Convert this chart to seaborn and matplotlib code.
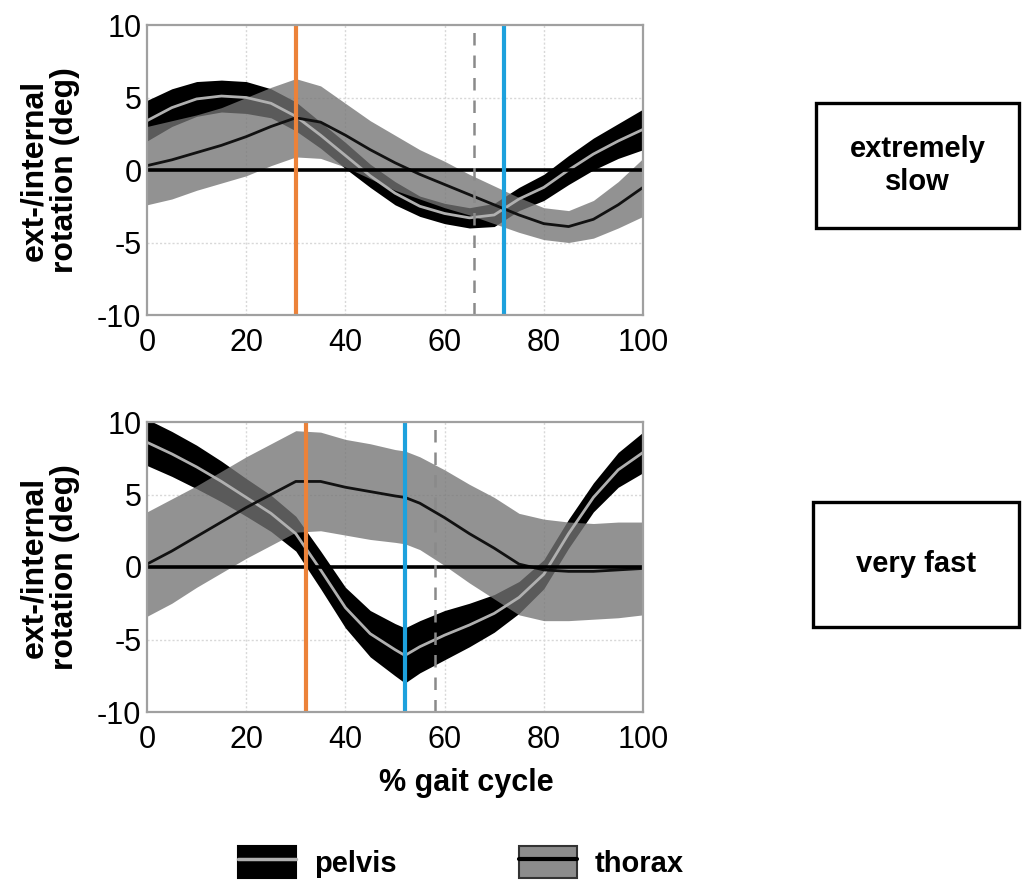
import numpy as np
import pandas as pd
import matplotlib
matplotlib.use("Agg")
import matplotlib.pyplot as plt
import seaborn as sns
from matplotlib.patches import Patch, Rectangle
from matplotlib.lines import Line2D
from matplotlib.legend_handler import HandlerTuple

# ---------------- data ----------------
# panel 1: extremely slow
x_slow = [0, 5, 10, 15, 20, 25, 30, 35, 40, 45, 50, 55, 60, 65, 70, 75, 80, 85, 90, 95, 100]
pelvis_slow_mean = [3.4, 4.3, 4.9, 5.1, 5.0, 4.6, 3.7, 2.4, 1.0, -0.4, -1.6, -2.5, -3.0, -3.3, -3.1, -2.0, -1.2, 0.0, 1.1, 2.0, 2.8]
pelvis_slow_sd = [1.4, 1.3, 1.2, 1.1, 1.1, 1.0, 1.0, 0.9, 0.9, 0.8, 0.8, 0.7, 0.7, 0.7, 0.8, 0.8, 0.9, 1.0, 1.1, 1.2, 1.4]
thorax_slow_mean = [0.3, 0.7, 1.2, 1.7, 2.3, 3.0, 3.6, 3.3, 2.4, 1.4, 0.5, -0.3, -1.0, -1.7, -2.4, -3.1, -3.7, -3.9, -3.4, -2.4, -1.2]
thorax_slow_sd = [2.7, 2.7, 2.6, 2.6, 2.7, 2.7, 2.7, 2.5, 2.2, 2.0, 1.9, 1.7, 1.6, 1.4, 1.3, 1.2, 1.1, 1.1, 1.3, 1.6, 2.0]
events_slow = {"toe_off_contra": 30, "toe_off": 72, "dashed": 66}

# panel 2: very fast
x_fast = [0, 5, 10, 15, 20, 25, 30, 35, 40, 45, 50, 52, 55, 60, 65, 70, 75, 80, 85, 90, 95, 100]
pelvis_fast_mean = [8.6, 7.8, 6.9, 5.9, 4.8, 3.7, 2.3, -0.2, -2.8, -4.6, -5.7, -6.1, -5.5, -4.7, -4.0, -3.2, -2.1, -0.5, 2.3, 4.8, 6.7, 7.9]
pelvis_fast_sd = [1.6, 1.55, 1.5, 1.4, 1.3, 1.25, 1.2, 1.3, 1.4, 1.6, 1.8, 1.9, 1.8, 1.7, 1.5, 1.3, 1.1, 1.0, 1.0, 1.0, 1.2, 1.4]
thorax_fast_mean = [0.2, 1.1, 2.1, 3.1, 4.1, 5.0, 5.9, 5.9, 5.5, 5.2, 4.9, 4.8, 4.4, 3.4, 2.3, 1.3, 0.2, -0.2, -0.3, -0.3, -0.2, -0.1]
thorax_fast_sd = [3.6, 3.6, 3.5, 3.5, 3.5, 3.5, 3.5, 3.4, 3.3, 3.3, 3.2, 3.2, 3.2, 3.3, 3.4, 3.5, 3.5, 3.5, 3.4, 3.3, 3.3, 3.2]
events_fast = {"toe_off_contra": 32, "toe_off": 52, "dashed": 58}

panel_labels = ["extremely\nslow", "very fast"]
x_ticks = [0, 20, 40, 60, 80, 100]
y_ticks = [-10, -5, 0, 5, 10]
y_label = "ext-/internal\nrotation (deg)"
x_label = "% gait cycle"
legend_labels = ["pelvis", "thorax"]

# ---------------- style ----------------
sns.set_theme(style="white")
FAM = ["Liberation Sans", "DejaVu Sans"]
plt.rcParams["font.family"] = FAM
plt.rcParams["text.color"] = "black"
plt.rcParams["axes.labelcolor"] = "black"

W, H = 1022, 884
fig = plt.figure(figsize=(W / 100, H / 100), dpi=100)

def px_axes(l, t, r, b):
    return fig.add_axes([l / W, 1 - b / H, (r - l) / W, (b - t) / H])

ax_top = px_axes(147, 25, 643, 315)
ax_bot = px_axes(147, 422, 643, 712)

PELVIS_C = "black"
PELVIS_LINE = "#b0b0b0"
THORAX_C = "#747474"
THORAX_ALPHA = 0.78
THORAX_LINE = "#111111"
ORANGE = "#EC8239"
BLUE = "#1DA1DD"

def draw_panel(ax, x, pm, ps, tm, ts, ev):
    x = np.asarray(x, float)
    pm, ps, tm, ts = map(lambda a: np.asarray(a, float), (pm, ps, tm, ts))
    ax.set_xlim(0, 100)
    ax.set_ylim(-10, 10)
    for g in [20, 40, 60, 80]:
        ax.axvline(g, color="#d8d8d8", lw=1.0, ls=(0, (1.5, 1.5)), zorder=1)
    for g in [-5, 5]:
        ax.axhline(g, color="#d8d8d8", lw=1.0, ls=(0, (1.5, 1.5)), zorder=1)
    ax.fill_between(x, pm - ps, pm + ps, color=PELVIS_C, lw=0, zorder=2)
    ax.fill_between(x, tm - ts, tm + ts, color=THORAX_C, alpha=THORAX_ALPHA, lw=0, zorder=3)
    df = pd.DataFrame({"x": x, "pelvis": pm, "thorax": tm})
    sns.lineplot(data=df, x="x", y="pelvis", ax=ax, color=PELVIS_LINE, lw=2.0, zorder=4)
    sns.lineplot(data=df, x="x", y="thorax", ax=ax, color=THORAX_LINE, lw=2.0, zorder=4)
    ax.axhline(0, color="black", lw=2.6, zorder=5)
    ax.axvline(ev["dashed"], color="#8a8a8a", lw=1.8, ls=(0, (5, 4)), zorder=6)
    ax.axvline(ev["toe_off_contra"], color=ORANGE, lw=3.0, zorder=7)
    ax.axvline(ev["toe_off"], color=BLUE, lw=3.0, zorder=7)
    ax.set_xticks(x_ticks)
    ax.set_yticks(y_ticks)
    ax.set_xticklabels([str(t) for t in x_ticks])
    ax.set_yticklabels([str(t) for t in y_ticks])
    ax.tick_params(axis="both", labelsize=22, colors="#999999", labelcolor="black",
                   direction="in", length=4, width=1)
    ax.tick_params(axis="x", pad=9)
    ax.tick_params(axis="y", pad=4)
    for s in ax.spines.values():
        s.set_color("#a0a0a0")
        s.set_linewidth(1.6)
        s.set_zorder(8)
    ax.set_xlabel("")
    ax.set_ylabel(y_label, fontsize=23, fontweight="bold", labelpad=12,
                  linespacing=1.05, color="black")

draw_panel(ax_top, x_slow, pelvis_slow_mean, pelvis_slow_sd, thorax_slow_mean, thorax_slow_sd, events_slow)
draw_panel(ax_bot, x_fast, pelvis_fast_mean, pelvis_fast_sd, thorax_fast_mean, thorax_fast_sd, events_fast)

ax_bot.set_xlabel(x_label, fontsize=22, fontweight="bold", color="black")
ax_bot.xaxis.set_label_coords((466 - 147) / 496, -(768 - 712) / 290)

# right-side boxes with condition names
for (l, t, r, b), lab in zip([(816, 103, 1019, 228), (813, 502, 1019, 627)], panel_labels):
    fig.add_artist(Rectangle((l / W, 1 - b / H), (r - l) / W, (b - t) / H,
                             transform=fig.transFigure, fill=False, ec="black", lw=2.4))
    fig.text((l + r) / 2 / W, 1 - (t + b) / 2 / H, lab, ha="center", va="center",
             fontsize=21, fontweight="bold", linespacing=1.2, color="black")

# legend
h_p = (Patch(facecolor=PELVIS_C, edgecolor="black", lw=1.5), Line2D([], [], color=PELVIS_LINE, lw=2.5))
h_t = (Patch(facecolor="#8c8c8c", edgecolor="#333333", lw=1.5), Line2D([], [], color="black", lw=3))
leg = fig.legend([h_p, h_t], legend_labels, handler_map={tuple: HandlerTuple(ndivide=1, pad=0)},
                 loc="center", bbox_to_anchor=(461 / W, 1 - 862 / H), ncol=2, frameon=False,
                 prop={"size": 21, "weight": "bold"},
                 handlelength=2.0, handleheight=1.3, handletextpad=0.6, columnspacing=4.2)
for t in leg.get_texts():
    t.set_color("black")

fig.savefig("out.png", dpi=100)
